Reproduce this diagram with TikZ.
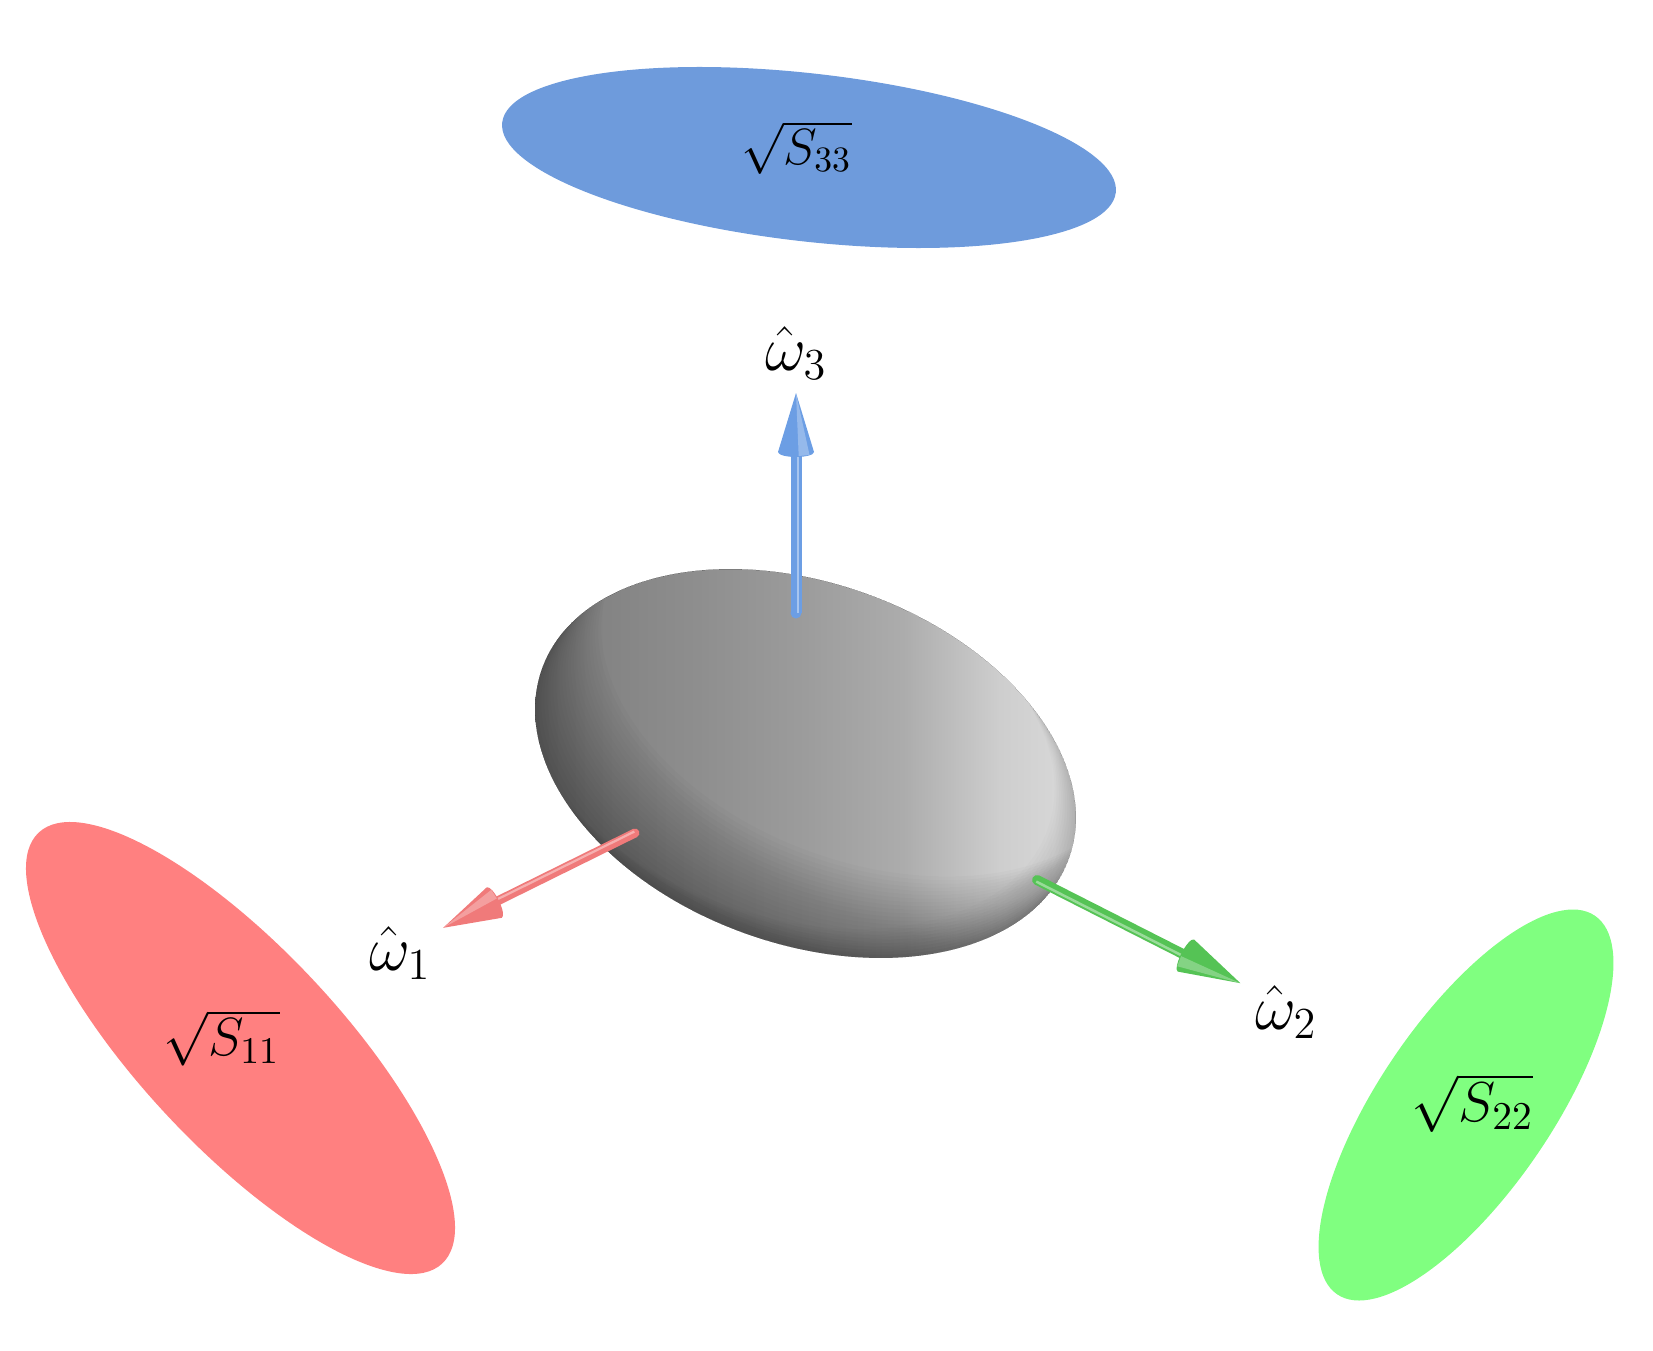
\RequirePackage{fix-cm}
\documentclass[tikz,border=0pt]{standalone}
\usetikzlibrary{calc}
\definecolor{ebl}{RGB}{110,155,220}
\definecolor{ered}{RGB}{255,128,128}
\definecolor{egr}{RGB}{128,255,128}
\definecolor{gA}{RGB}{124,124,124}
\definecolor{gB}{RGB}{142,142,142}
\definecolor{gM}{RGB}{156,156,156}
\definecolor{gU}{RGB}{172,172,172}
\definecolor{gC}{RGB}{206,206,206}
\definecolor{gD}{RGB}{214,214,214}
\definecolor{arB}{RGB}{108,158,228}
\definecolor{arR}{RGB}{240,122,122}
\definecolor{arG}{RGB}{85,195,85}
\pgfdeclarehorizontalshading{ellsh}{100bp}{color(0bp)=(gA); color(25bp)=(gA); color(40bp)=(gB); color(50bp)=(gM); color(59bp)=(gU); color(68bp)=(gC); color(73bp)=(gD); color(75bp)=(gC); color(100bp)=(gC)}
\newcommand\myarrow[7]{%
  \begin{scope}[shift={(#1)}, rotate=#2]
    \fill[#7] (-#5,-#3) rectangle (#5,0);
    \fill[#7] (0,0) circle [radius=#5];
    \fill[#7!60!white] (0.1*#5,-#3) rectangle (0.6*#5,0);
    \fill[#7] (-#6,-#3) -- (0,-#4) -- (#6,-#3) arc[start angle=0,end angle=180,x radius=#6,y radius=5] -- cycle;
    \fill[#7!60!white, opacity=0.7] (0,-#4) -- (0.15*#6,-#3+4) -- (0.75*#6,-#3+3) -- cycle;
  \end{scope}}
\begin{document}
\begin{tikzpicture}[x=0.1mm,y=-0.1mm,
  lbl/.style={inner sep=0pt, font=\fontsize{18}{21}\selectfont},
  slbl/.style={inner sep=0pt, font=\fontsize{#1}{18}\selectfont}]
\useasboundingbox (0,0) rectangle (1653,1350);
% projection ellipses
\fill[ebl, rotate around={-6.5:(809,157.5)}] (809,157.5) ellipse [x radius=30.88mm, y radius=8.4mm];
\fill[ered, rotate around={-46.88:(240.5,1048)}] (240.5,1048) ellipse [x radius=29.52mm, y radius=9.96mm];
\fill[egr, rotate around={55.75:(1466,1105)}] (1466,1105) ellipse [x radius=22.9mm, y radius=8.66mm];
% ellipsoid
\begin{scope}
  \clip[rotate around={-19.85:(805.5,763.5)}] (805.5,763.5) ellipse [x radius=28mm, y radius=18.03mm];
  \shade[shading=ellsh] (535,569) rectangle (1076,958);
  \begin{scope}[shift={(805.5,763.5)}, rotate=-19.85]
    \foreach \k in {1,...,22}
      \fill[black, opacity=0.016, even odd rule] (0,0) ellipse [x radius=28mm, y radius=18.03mm]
        (0.35*\k*4.5,-\k*4.5) ellipse [x radius=28mm, y radius=18.03mm];
    \foreach \k in {1,...,10}
      \fill[black, opacity=0.01, even odd rule] (0,0) ellipse [x radius=28mm, y radius=18.03mm]
        (-\k*3,-\k*2) ellipse [x radius=28mm, y radius=18.03mm];
  \end{scope}
\end{scope}
% axes
\coordinate (o3) at (796,613);
\coordinate (o1) at (635,833);
\coordinate (o2) at (1037,880);
\myarrow{o3}{0}{161}{220}{5.5}{18}{arB}
\myarrow{o1}{116.3}{157}{214}{4.5}{17}{arR}
\myarrow{o2}{-116.9}{167}{228}{5}{18}{arG}
% labels
\node[lbl] (w1) at (400,953) {$\hat{\omega}_1$};
\node[lbl] (w2) at (1286,1012) {$\hat{\omega}_2$};
\node[lbl] (w3) at (796,353) {$\hat{\omega}_3$};
\node[slbl=14.5] (s33) at (796.5,147.5) {$\sqrt{S_{33}}$};
\node[slbl=15.3] (s11) at (221.5,1038) {$\sqrt{S_{11}}$};
\node[slbl=16] (s22) at (1472.5,1103) {$\sqrt{S_{22}}$};
\end{tikzpicture}
\end{document}
